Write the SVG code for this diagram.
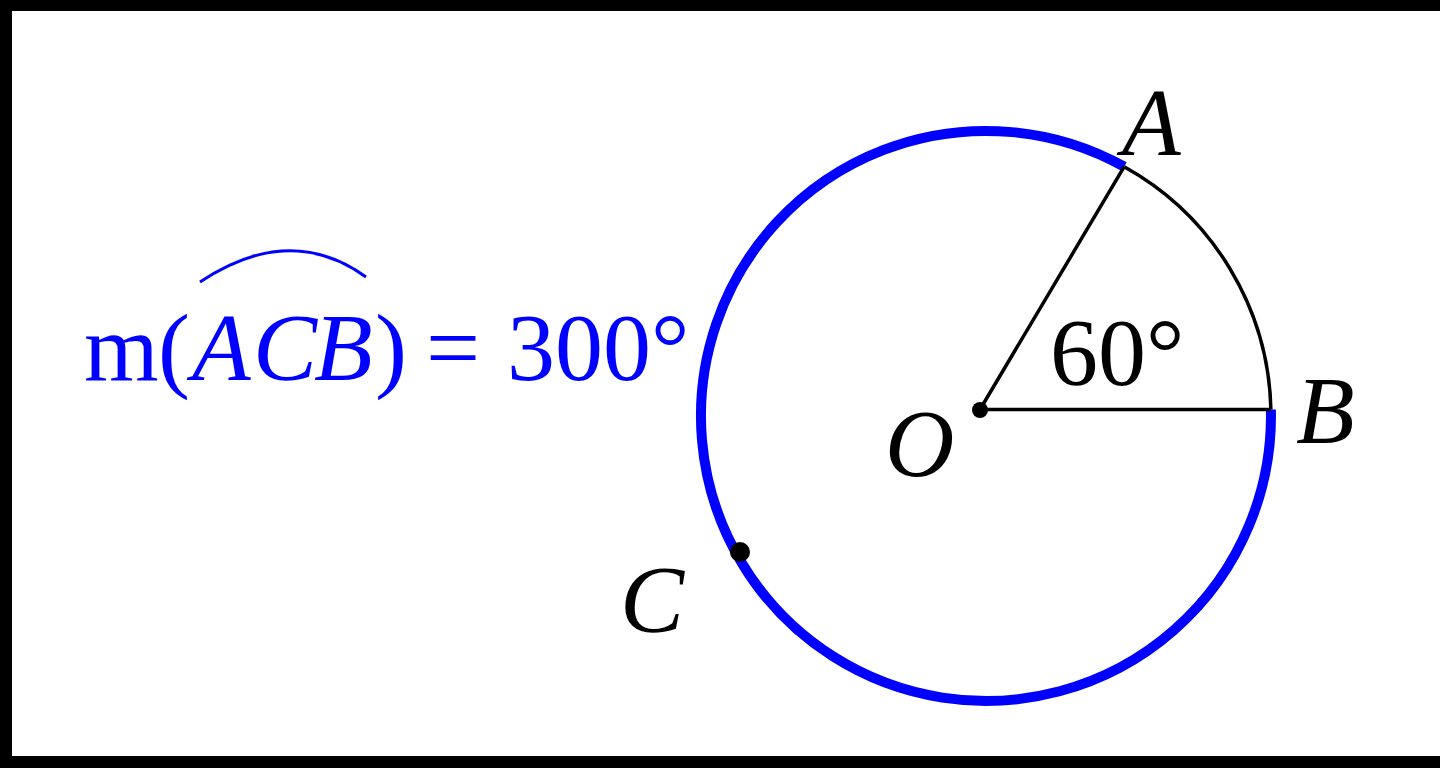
<svg xmlns="http://www.w3.org/2000/svg" width="1440" height="768" viewBox="0 0 1440 768">
<style>
  .lbl { font-family: "Liberation Serif", "Times New Roman", serif; font-size: 96px; fill: #000; }
  .it { font-style: italic; }
  .blue { fill: #0000FF; }
  .thin { fill: none; stroke: #000; stroke-width: 3.5; }
  .major { fill: none; stroke: #0000FF; stroke-width: 10; }
</style>
<rect x="0" y="0" width="1440" height="768" fill="#fff"/>
<g id="frame" fill="#000">
  <rect x="0" y="0" width="1440" height="11"/>
  <rect x="0" y="0" width="12" height="768"/>
  <rect x="0" y="756" width="1440" height="12"/>
</g>
<g id="connectors">
  <path id="arc-ACB" class="major" d="M1124.2,166.7 A285,285 0 1 0 1270.9,409.5"/>
  <path id="arc-AB" class="thin" d="M1124.2,166.7 A285,285 0 0 1 1270.9,409.5"/>
  <line id="OA" class="thin" x1="980" y1="409.5" x2="1124.2" y2="166.7"/>
  <line id="OB" class="thin" x1="980" y1="409.5" x2="1270.9" y2="409.5"/>
</g>
<g id="node-O">
  <circle cx="980" cy="410" r="8" fill="#000"/>
  <text class="lbl it" x="885" y="476">O</text>
</g>
<g id="node-A">
  <text class="lbl it" x="1122" y="155">A</text>
</g>
<g id="node-B">
  <text class="lbl it" x="1296" y="443">B</text>
</g>
<g id="node-C">
  <circle cx="740" cy="552" r="10" fill="#000"/>
  <text class="lbl it" x="620" y="632">C</text>
</g>
<g id="angle-label">
  <text class="lbl" x="1050" y="385">60°</text>
</g>
<g id="measure-label">
  <path d="M200,282 Q290,222 366,277" fill="none" stroke="#0000FF" stroke-width="3"/>
  <text class="lbl blue" y="380"><tspan x="84">m</tspan><tspan x="158">(</tspan><tspan class="it" x="192">A</tspan><tspan class="it" x="253">C</tspan><tspan class="it" x="314">B</tspan><tspan x="375">)</tspan><tspan x="426">=</tspan><tspan x="507">3</tspan><tspan x="555">0</tspan><tspan x="603">0</tspan><tspan x="651">°</tspan></text>
</g>
</svg>
